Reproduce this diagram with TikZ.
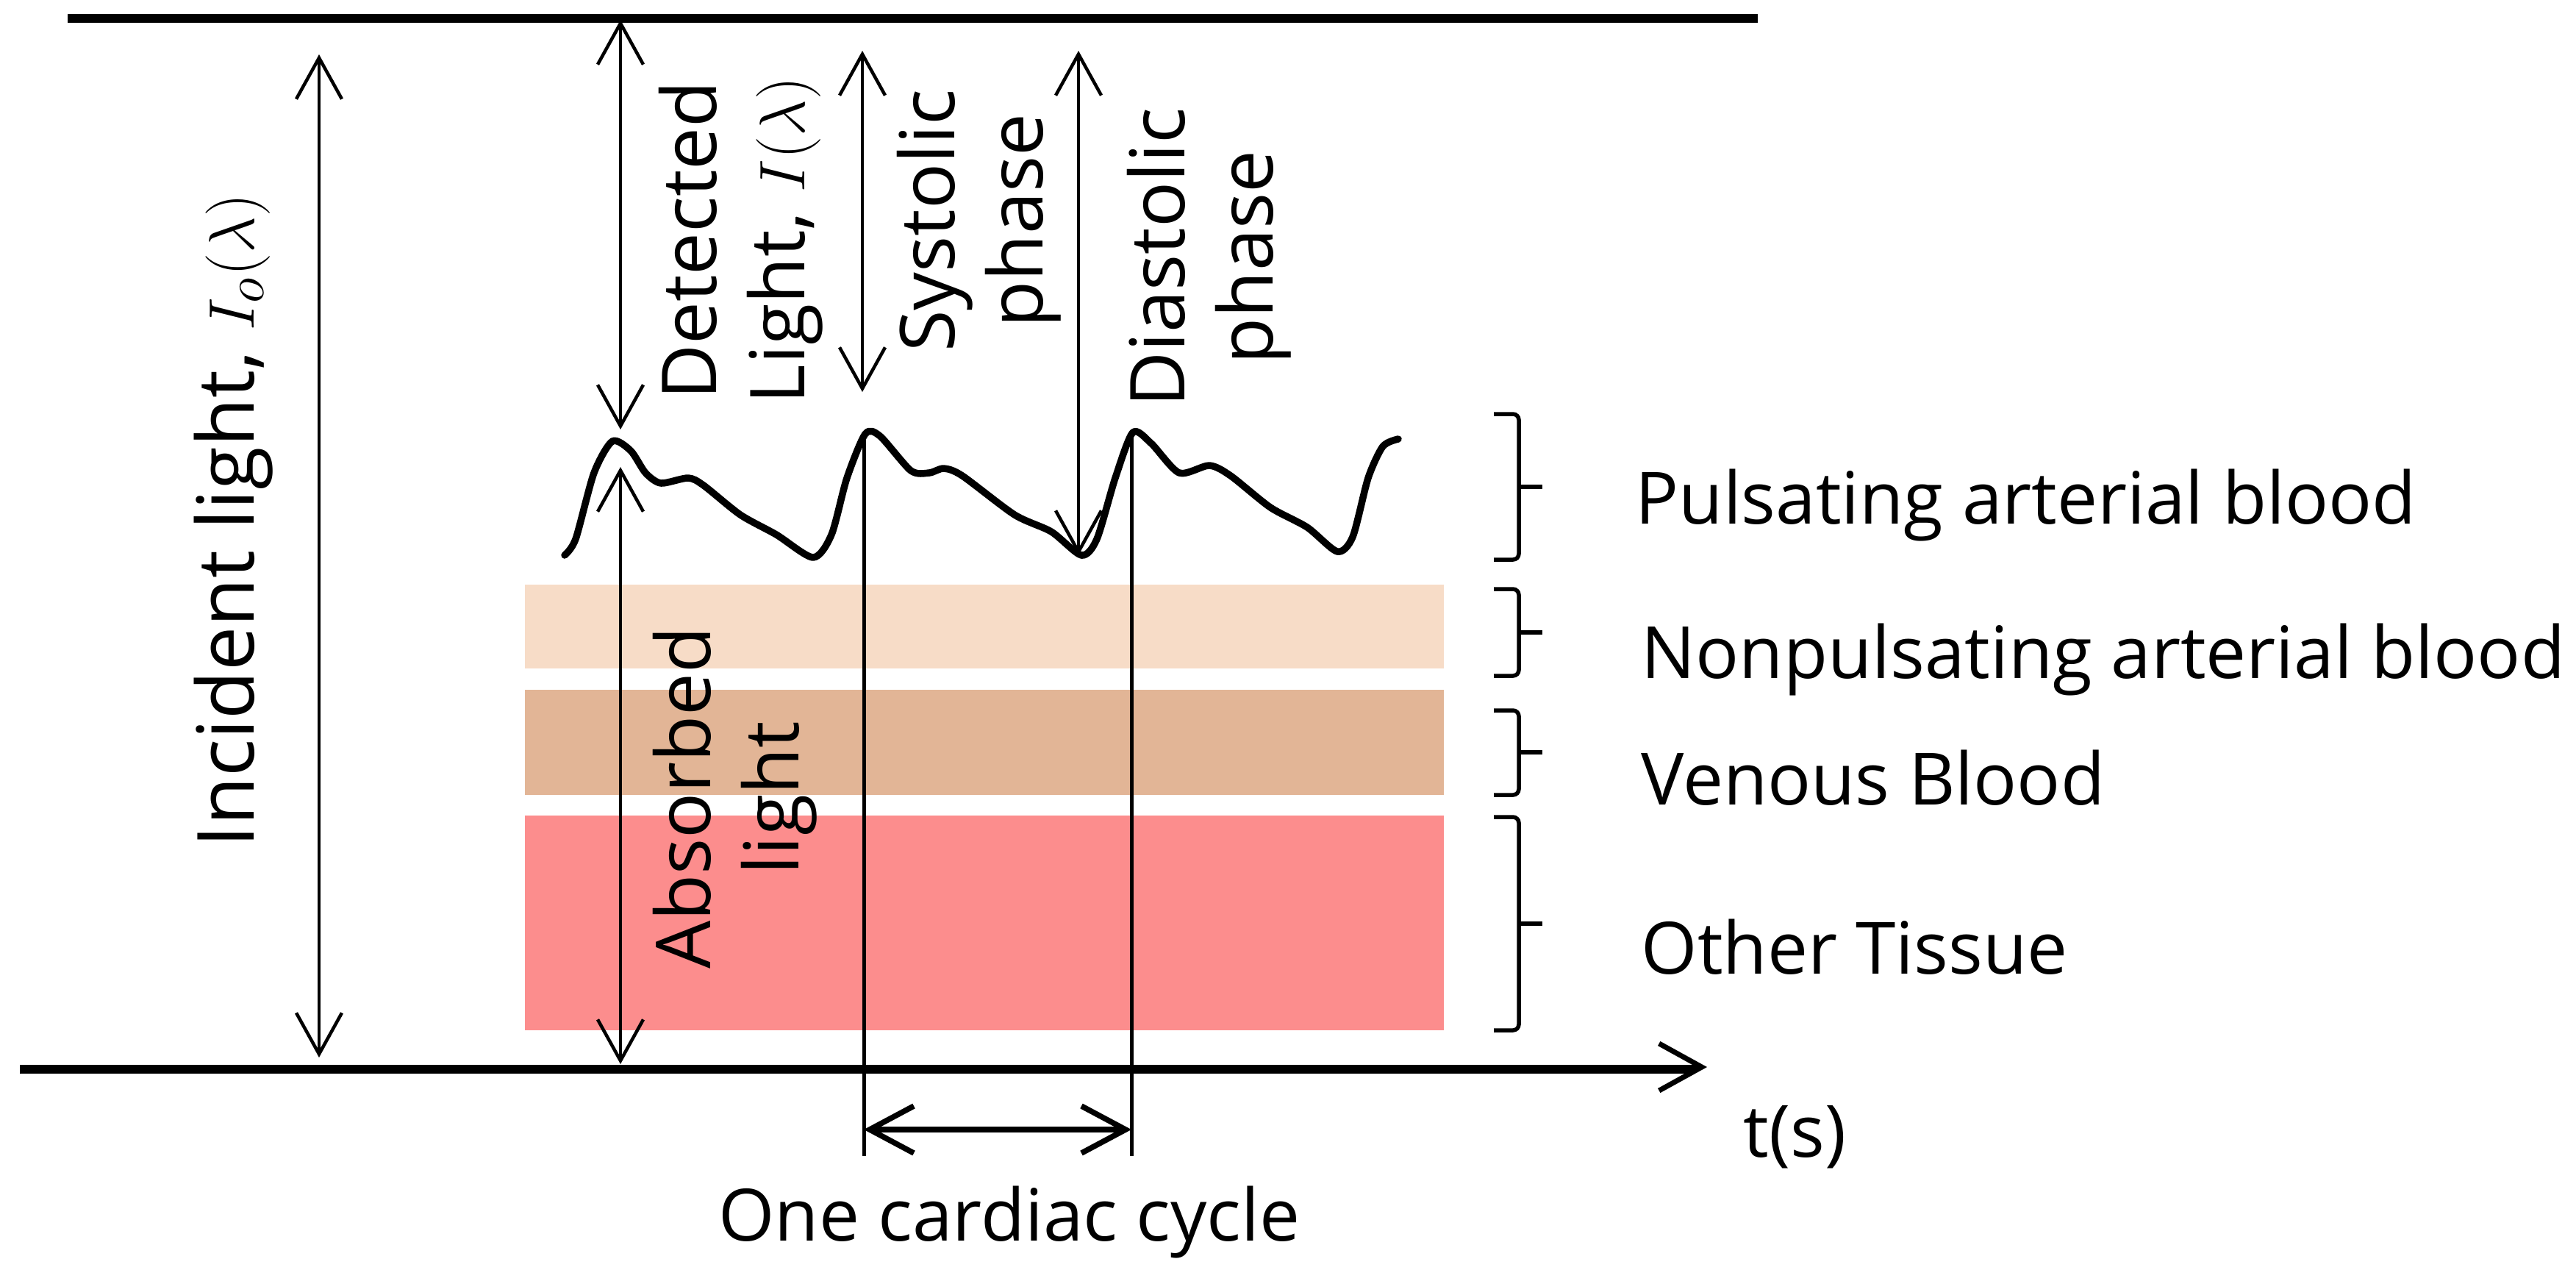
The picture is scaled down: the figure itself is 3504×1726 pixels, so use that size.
\documentclass[tikz,border=0pt]{standalone}
\usepackage{fontspec}
\setmainfont{Open Sans}
\usetikzlibrary{arrows.meta}
\definecolor{peach}{HTML}{F7DCC7}
\definecolor{tan}{HTML}{E2B596}
\definecolor{pinkt}{HTML}{FC8D8D}
\definecolor{shade}{HTML}{A0A0A0}
\begin{document}
\begin{tikzpicture}[x=0.01cm,y=-0.01cm,
  thinline/.style={line width=0.045cm},
  barb/.tip={Straight Barb[length=0.56cm,width=0.62cm]},
  dbl/.style={thinline,barb-barb},
  heavy/.style={line width=0.07cm},
  bracestyle/.style={line width=0.055cm,rounded corners=0.08cm},
  lbl/.style={font=\fontsize{27.9pt}{34.7pt}\selectfont,inner sep=0pt},
  rlbl/.style={inner sep=0pt,font=\fontsize{29.3pt}{34.1pt}\selectfont,rotate=90,align=center},
  ]
\path[use as bounding box] (0,0) rectangle (3504,1726);

% tissue bands
\fill[peach] (714,795) rectangle (1964,909);
\fill[tan] (714,938) rectangle (1964,1081);
\fill[pinkt] (714,1109) rectangle (1964,1401);

% top line and time axis
\coordinate (tl) at (92,22);
\coordinate (tr) at (2391,22);
\draw[shade,line width=0.09cm] (92,26) -- (2391,26);
\draw[heavy] (tl) -- (tr);
\coordinate (ax0) at (27,1451);
\coordinate (ax1) at (2322,1451);
\draw[shade,line width=0.09cm] (27,1455) -- (2300,1455);
\draw[heavy,-{Straight Barb[length=0.58cm,width=0.64cm]}] (ax0) -- (ax1);

% pulse wave
\draw[line width=0.095cm,line join=round,line cap=round] plot[smooth,tension=0.45] coordinates {
 (768,755) (783,733) (808,643) (833,600) (858,613) (878,643) (899,657) (936,650)
 (957,660) (1007,700) (1056,727) (1106,758) (1131,727) (1152,650) (1177,590)
 (1197,593) (1239,640) (1264,643) (1284,637) (1309,647) (1380,700) (1430,723)
 (1471,755) (1492,733) (1517,650) (1541,588) (1566,603) (1604,643) (1645,633)
 (1674,647) (1728,690) (1778,717) (1819,750) (1840,730) (1861,650) (1881,607) (1902,597)};

% incident light
\coordinate (inT) at (434,74);
\coordinate (inB) at (434,1438);
\draw[dbl] (inT) -- (inB);
% detected light
\coordinate (deT) at (844,27);
\coordinate (deB) at (844,584);
\draw[dbl] (deT) -- (deB);
% absorbed light
\coordinate (abT) at (844,635);
\coordinate (abB) at (844,1447);
\draw[dbl] (abT) -- (abB);
% systolic
\coordinate (syT) at (1173,69);
\coordinate (syB) at (1173,533);
\draw[dbl] (syT) -- (syB);
% diastolic
\coordinate (diT) at (1467,69);
\coordinate (diB) at (1467,755);
\draw[dbl] (diT) -- (diB);

% cardiac cycle markers
\coordinate (s0) at (1175,588);
\coordinate (s1) at (1175,1572);
\coordinate (d0) at (1539,588);
\coordinate (d1) at (1539,1572);
\draw[line width=0.05cm] (s0) -- (s1);
\draw[line width=0.05cm] (d0) -- (d1);
\coordinate (cL) at (1175,1536);
\coordinate (cR) at (1539,1536);
\draw[line width=0.075cm,{Straight Barb[length=0.6cm,width=0.64cm]}-{Straight Barb[length=0.6cm,width=0.64cm]}] (cL) -- (cR);

% braces
\draw[bracestyle] (2032,563) -- (2066,563) -- (2066,761) -- (2032,761);
\draw[line width=0.055cm] (2066,662) -- (2098,662);
\draw[bracestyle] (2032,801) -- (2066,801) -- (2066,919) -- (2032,919);
\draw[line width=0.055cm] (2066,860) -- (2098,860);
\draw[bracestyle] (2032,966) -- (2066,966) -- (2066,1081) -- (2032,1081);
\draw[line width=0.055cm] (2066,1023) -- (2098,1023);
\draw[bracestyle] (2032,1111) -- (2066,1111) -- (2066,1401) -- (2032,1401);
\draw[line width=0.055cm] (2066,1256) -- (2098,1256);

% right labels
\node[lbl,anchor=base west] (pab) at (2224,712) {Pulsating arterial blood};
\node[lbl,anchor=base west] (npab) at (2232,922) {Nonpulsating arterial blood};
\node[lbl,anchor=base west] (vb) at (2232,1094) {Venous Blood};
\node[lbl,anchor=base west] (ot) at (2232,1324) {Other Tissue};

% axis labels
\node[lbl,anchor=base west] (ts) at (2371,1573) {t(s)};
\node[lbl,anchor=base] (occ) at (1373,1687) {One cardiac cycle};

% rotated labels
\node[rlbl,font=\fontsize{30.5pt}{36pt}\selectfont] (inc) at (318,708) {Incident light, $I_o(\lambda)$};
\node[rlbl] (det) at (1008,327) {Detected\\Light, $I(\lambda)$};
\node[rlbl] (sys) at (1332,300) {Systolic\\phase};
\node[rlbl] (dia) at (1645,350) {Diastolic\\phase};
\node[rlbl] (abs) at (1000,1085) {Absorbed\\light};
\end{tikzpicture}
\end{document}
